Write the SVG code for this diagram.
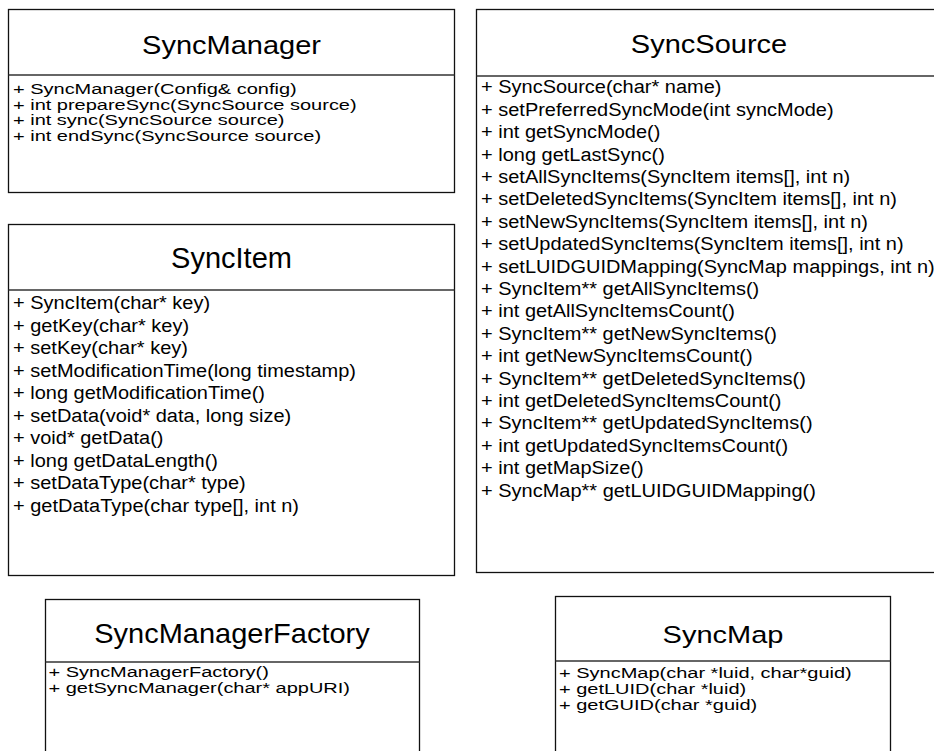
<svg xmlns="http://www.w3.org/2000/svg" width="934" height="751" viewBox="0 0 934 751">
  <style>
    .box { fill: #ffffff; stroke: #111111; stroke-width: 1.3; }
    .sep { stroke: #333333; stroke-width: 1.6; fill: none; }
    .title { font-family: "Liberation Sans", Arial, Helvetica, sans-serif; font-size: 29px; text-anchor: middle; fill: #000000; }
    .mem { font-family: "Liberation Sans", Arial, Helvetica, sans-serif; font-size: 20px; fill: #000000; }
  </style>
  <rect width="934" height="751" fill="#ffffff"/>

  <!-- SyncManager class -->
  <g id="SyncManager">
    <rect class="box" x="8.5" y="9.5" width="446" height="183"/>
    <line class="sep" x1="8.5" y1="75" x2="454.5" y2="75"/>
    <text class="title" transform="translate(231.5,54) scale(1,0.87)">SyncManager</text>
    <text class="mem" transform="translate(13,94) scale(1,0.75)">
      <tspan x="0" y="0">+ SyncManager(Config&amp; config)</tspan>
      <tspan x="0" dy="20.9">+ int prepareSync(SyncSource source)</tspan>
      <tspan x="0" dy="20.9">+ int sync(SyncSource source)</tspan>
      <tspan x="0" dy="20.9">+ int endSync(SyncSource source)</tspan>
    </text>
  </g>

  <!-- SyncSource class (runs past the right edge) -->
  <g id="SyncSource">
    <rect class="box" x="476.5" y="9.5" width="466" height="563"/>
    <line class="sep" x1="476.5" y1="76" x2="942" y2="76"/>
    <text class="title" transform="translate(709,53.3) scale(1,0.91)">SyncSource</text>
    <text class="mem" transform="translate(481,93.3) scale(1,0.93)">
      <tspan x="0" y="0">+ SyncSource(char* name)</tspan>
      <tspan x="0" dy="24.1">+ setPreferredSyncMode(int syncMode)</tspan>
      <tspan x="0" dy="24.1">+ int getSyncMode()</tspan>
      <tspan x="0" dy="24.1">+ long getLastSync()</tspan>
      <tspan x="0" dy="24.1">+ setAllSyncItems(SyncItem items[], int n)</tspan>
      <tspan x="0" dy="24.1">+ setDeletedSyncItems(SyncItem items[], int n)</tspan>
      <tspan x="0" dy="24.1">+ setNewSyncItems(SyncItem items[], int n)</tspan>
      <tspan x="0" dy="24.1">+ setUpdatedSyncItems(SyncItem items[], int n)</tspan>
      <tspan x="0" dy="24.1">+ setLUIDGUIDMapping(SyncMap mappings, int n)</tspan>
      <tspan x="0" dy="24.1">+ SyncItem** getAllSyncItems()</tspan>
      <tspan x="0" dy="24.1">+ int getAllSyncItemsCount()</tspan>
      <tspan x="0" dy="24.1">+ SyncItem** getNewSyncItems()</tspan>
      <tspan x="0" dy="24.1">+ int getNewSyncItemsCount()</tspan>
      <tspan x="0" dy="24.1">+ SyncItem** getDeletedSyncItems()</tspan>
      <tspan x="0" dy="24.1">+ int getDeletedSyncItemsCount()</tspan>
      <tspan x="0" dy="24.1">+ SyncItem** getUpdatedSyncItems()</tspan>
      <tspan x="0" dy="24.1">+ int getUpdatedSyncItemsCount()</tspan>
      <tspan x="0" dy="24.1">+ int getMapSize()</tspan>
      <tspan x="0" dy="24.1">+ SyncMap** getLUIDGUIDMapping()</tspan>
    </text>
  </g>

  <!-- SyncItem class -->
  <g id="SyncItem">
    <rect class="box" x="8.5" y="224.5" width="446" height="351"/>
    <line class="sep" x1="8.5" y1="290" x2="454.5" y2="290"/>
    <text class="title" transform="translate(231.5,268) scale(1,1.04)">SyncItem</text>
    <text class="mem" transform="translate(13,309.3) scale(1,0.93)">
      <tspan x="0" y="0">+ SyncItem(char* key)</tspan>
      <tspan x="0" dy="24.2">+ getKey(char* key)</tspan>
      <tspan x="0" dy="24.2">+ setKey(char* key)</tspan>
      <tspan x="0" dy="24.2">+ setModificationTime(long timestamp)</tspan>
      <tspan x="0" dy="24.2">+ long getModificationTime()</tspan>
      <tspan x="0" dy="24.2">+ setData(void* data, long size)</tspan>
      <tspan x="0" dy="24.2">+ void* getData()</tspan>
      <tspan x="0" dy="24.2">+ long getDataLength()</tspan>
      <tspan x="0" dy="24.2">+ setDataType(char* type)</tspan>
      <tspan x="0" dy="24.2">+ getDataType(char type[], int n)</tspan>
    </text>
  </g>

  <!-- SyncManagerFactory class (runs past the bottom edge) -->
  <g id="SyncManagerFactory">
    <rect class="box" x="45.5" y="599.5" width="374" height="170"/>
    <line class="sep" x1="45.5" y1="662" x2="419.5" y2="662"/>
    <text class="title" transform="translate(232,643.3) scale(1,0.96)">SyncManagerFactory</text>
    <text class="mem" transform="translate(48.5,677.3) scale(1,0.75)">
      <tspan x="0" y="0">+ SyncManagerFactory()</tspan>
      <tspan x="0" dy="21.3">+ getSyncManager(char* appURI)</tspan>
    </text>
  </g>

  <!-- SyncMap class (runs past the bottom edge) -->
  <g id="SyncMap">
    <rect class="box" x="555.5" y="596.5" width="335" height="170"/>
    <line class="sep" x1="555.5" y1="661" x2="890.5" y2="661"/>
    <text class="title" transform="translate(723,643.3) scale(1,0.85)">SyncMap</text>
    <text class="mem" transform="translate(559,678.3) scale(1,0.76)">
      <tspan x="0" y="0">+ SyncMap(char *luid, char*guid)</tspan>
      <tspan x="0" dy="21">+ getLUID(char *luid)</tspan>
      <tspan x="0" dy="21">+ getGUID(char *guid)</tspan>
    </text>
  </g>
</svg>
